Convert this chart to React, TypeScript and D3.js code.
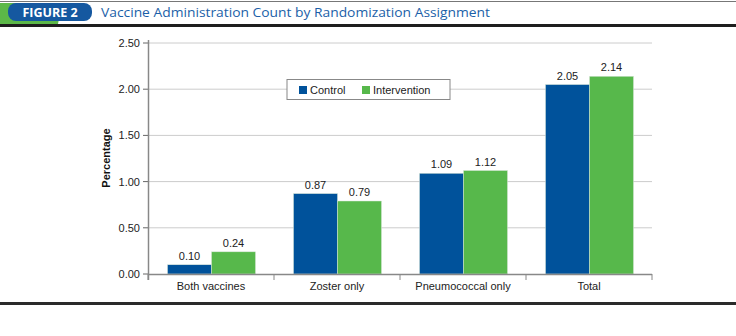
import React from "react";
import * as d3 from "d3";

const categories = ["Both vaccines", "Zoster only", "Pneumococcal only", "Total"];
const seriesNames = ["Control", "Intervention"];
const controlValues = [0.10, 0.87, 1.09, 2.05];
const interventionValues = [0.24, 0.79, 1.12, 2.14];
const yTicks = [0, 0.5, 1.0, 1.5, 2.0, 2.5];
const colors = ["#00529b", "#57b84b"];

export default function App() {
  const W = 736, H = 336;
  const x0 = d3.scaleBand().domain(categories).range([148, 652]).paddingInner(0).paddingOuter(0);
  const y = d3.scaleLinear().domain([0, 2.5]).range([274, 43]);
  const inner = d3.scaleBand().domain(seriesNames).range([19.5, x0.bandwidth() - 18.5]).padding(0);
  const series = [controlValues, interventionValues];
  const font = "'Liberation Sans', Arial, sans-serif";
  return (
    <svg width={W} height={H} style={{ position: "absolute", left: 0, top: 0, background: "#fff" }} fontFamily={font}>
      {/* header */}
      <line x1={0} x2={736} y1={1.5} y2={1.5} stroke="#777" strokeWidth={1} />
      <path d="M0,3 H62 L58,24 H0 Z" fill="#5cb848" />
      <rect x={8} y={3} width={84} height={18} rx={8} fill="#1558a0" />
      <text x={50} y={16.5} textAnchor="middle" fill="#fff" fontWeight="bold" fontSize={12.5} fontFamily="'Open Sans', 'DejaVu Sans', sans-serif">FIGURE 2</text>
      <text x={101} y={17} fill="#1b5fa8" fontSize={13.5} fontFamily="'Open Sans', sans-serif" textLength={389} lengthAdjust="spacingAndGlyphs">Vaccine Administration Count by Randomization Assignment</text>
      <rect x={0} y={24} width={736} height={3} fill="#1e1e1e" />
      {/* gridlines */}
      {yTicks.filter(t => t > 0).map(t => (
        <line key={t} x1={148} x2={652} y1={y(t)} y2={y(t)} stroke="#cccccc" strokeWidth={1} />
      ))}
      {/* y ticks */}
      {yTicks.map(t => (
        <g key={"yt" + t}>
          <line x1={143} x2={148} y1={y(t)} y2={y(t)} stroke="#666" />
          <text x={140} y={y(t) + 4} textAnchor="end" fontSize={11} fill="#222">{t.toFixed(2)}</text>
        </g>
      ))}
      <text transform={`translate(110,158) rotate(-90)`} textAnchor="middle" fontSize={11} fontWeight="bold" fill="#111">Percentage</text>
      {/* bars */}
      {categories.map((c, i) => (
        <g key={c} transform={`translate(${x0(c)},0)`}>
          {seriesNames.map((s, j) => {
            const v = series[j][i];
            return (
              <g key={s}>
                <rect x={inner(s)} y={y(v)} width={inner.bandwidth()} height={y(0) - y(v)} fill={colors[j]} stroke="#d8e6d8" strokeWidth={0.5} />
                <text x={(inner(s) as number) + inner.bandwidth() / 2} y={y(v) - 5} textAnchor="middle" fontSize={11} fill="#222">{v.toFixed(2)}</text>
              </g>
            );
          })}
          <text x={x0.bandwidth() / 2} y={290} textAnchor="middle" fontSize={11} fill="#222">{c}</text>
        </g>
      ))}
      {/* axes */}
      <line x1={148.5} x2={148.5} y1={40} y2={280} stroke="#888" strokeWidth={1.5} />
      <line x1={148} x2={652} y1={274.5} y2={274.5} stroke="#888" strokeWidth={1.5} />
      {categories.concat([""]).map((c, i) => (
        <line key={"ct" + i} x1={148 + i * x0.bandwidth()} x2={148 + i * x0.bandwidth()} y1={274} y2={280} stroke="#888" />
      ))}
      {/* legend */}
      <rect x={287} y={79.5} width={163} height={20} fill="#fff" stroke="#888" strokeWidth={1} />
      <rect x={299} y={86} width={8} height={8} fill={colors[0]} />
      <text x={310} y={94} fontSize={11} fill="#222">{seriesNames[0]}</text>
      <rect x={362} y={86} width={8} height={8} fill={colors[1]} />
      <text x={373} y={94} fontSize={11} fill="#222">{seriesNames[1]}</text>
      {/* bottom line */}
      <rect x={0} y={302} width={736} height={3} fill="#2a2a2a" />
    </svg>
  );
}
